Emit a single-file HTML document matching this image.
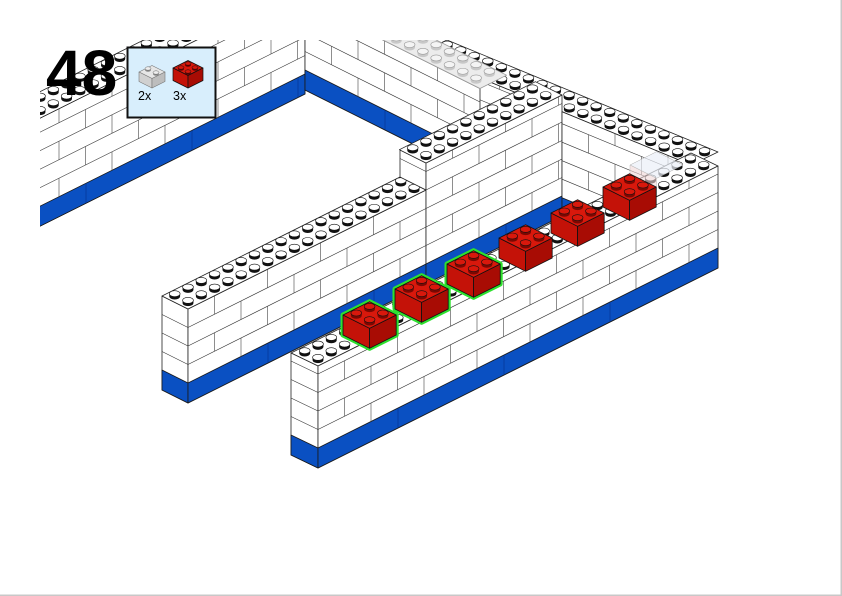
<!DOCTYPE html>
<html><head><meta charset="utf-8"><style>
html,body{margin:0;padding:0;background:#fff;width:842px;height:596px;overflow:hidden}
svg{display:block}
</style></head><body>
<svg id="s" width="842" height="596" viewBox="0 0 842 596" xmlns="http://www.w3.org/2000/svg">
<defs><clipPath id="c"><rect x="40" y="40" width="800" height="560"/></clipPath></defs>
<g id="g" clip-path="url(#c)"></g>
<g id="top"></g>
<rect x="840.5" y="0" width="1.5" height="596" fill="#c8c8c8"/>
<rect x="0" y="594.5" width="842" height="1.5" fill="#c8c8c8"/>
</svg>
<script>
const S='http://www.w3.org/2000/svg';
let G=document.getElementById('g');
function el(t,a,p){p=p||G;const e=document.createElementNS(S,t);for(const k in a)e.setAttribute(k,a[k]);p.appendChild(e);return e;}
function poly(pts,fill,stroke,sw){return el('polygon',{points:pts.map(p=>p[0].toFixed(1)+','+p[1].toFixed(1)).join(' '),fill:fill,stroke:stroke||'#222','stroke-width':sw||0.8,'stroke-linejoin':'round'});}
function line(x1,y1,x2,y2,c,w){el('line',{x1:x1,y1:y1,x2:x2,y2:y2,stroke:c||'#333','stroke-width':w||0.6});}
function face(xl,yl,xr,yr,h,bh){
  const m=(yr-yl)/(xr-xl);const Y=(x,o)=>yl+m*(x-xl)+o;
  poly([[xl,yl],[xr,yr],[xr,yr+h],[xl,yl+h]],'#fff');
  if(bh){poly([[xl,yl+h-bh],[xr,yr+h-bh],[xr,yr+h],[xl,yl+h]],'#0a50c2','#1a1a1a');
    for(let x=xl+80;x<xr-5;x+=106)line(x,Y(x,h-bh),x,Y(x,h),'#06308a',0.6);}
  const ch=18.5;let k=0;
  for(let ob=h-bh;ob>0.5;ob-=ch,k++){
    const ot=Math.max(0,ob-ch);
    if(ot>0.5)line(xl,Y(xl,ot),xr,Y(xr,ot));
    for(let x=xl+((k%2)?26.5:53);x<xr-3;x+=53)line(x,Y(x,ot),x,Y(x,ob),'#444',0.6);
  }
}
function stud(x,y,top,side,st){
  top=top||'#fff';side=side||'#111';st=st||'#111';
  el('ellipse',{cx:x,cy:y+2.8,rx:5.4,ry:3,fill:side});
  el('rect',{x:x-5.4,y:y,width:10.8,height:2.8,fill:side});
  el('ellipse',{cx:x,cy:y,rx:5.4,ry:3,fill:top,stroke:st,'stroke-width':0.6});
}
function studs(O,A,B,n,top,side,st,i0){
  i0=i0||0;
  for(let j=1;j>=0;j--)for(let i=i0;i<n;i++){
    stud(O[0]+(i+.5)*A[0]+(j+.5)*B[0],O[1]+(i+.5)*A[1]+(j+.5)*B[1]-2,top,side,st);
  }
}
const U=[13.3,-6.65],V=[13.3,6.65],mU=[-13.3,6.65],mV=[-13.3,-6.65];

face(420,53,562,111.7,170,0);
poly([[420,53],[447,40],[718,152],[691,165]],'#fff');
studs([447,40],[13.55,5.6],mU,20);
face(-100,188,305,-14,108,20);
poly([[-100,188],[305,-14],[278,-27],[-127,175]],'#fff');
studs([40-13.3*4,118+6.65*4],U,mV,26);
face(305,1,480,88.5,89,20);
poly([[383,40],[480,88.5],[506.6,75.2],[409.6,26.7]],'#ececec','#999');
studs([383,40],V,U,7,'#f4f4f4','#c8c8c8','#999');
face(162,296,188,309,94,20);
face(188,309,426,190,94,20);
poly([[162,296],[188,309],[426,190],[400,177]],'#fff');
studs([188,309],U,mV,18);
face(400,150,426,163,27,0);
face(426,163,562,95,121,20);
poly([[399.4,149.7],[426,163],[562,95],[535.4,81.7]],'#fff');
studs([426,163],U,mV,10);
face(562,111.7,691,165,106,20);
poly([[291,353],[318,366],[718,166],[691,153]],'#fff');
studs([318,366],U,mV,30);
face(291,353,318,366,102,20);
face(318,366,718,166,102,20);
function clear(x0,y0){
  poly([[x0,y0],[x0+26.6,y0-13.3],[x0+53,y0],[x0+26.6,y0+13.3]],'rgba(235,240,248,0.7)','#aaa',0.5);
  poly([[x0,y0],[x0+26.6,y0+13.3],[x0+26.6,y0+31],[x0,y0+18]],'rgba(240,215,215,0.6)','#bbb',0.5);
}
clear(630,165);
function red(x0,y0,green){
  const L=[x0,y0],T=[x0+26.6,y0-13.3],R=[x0+53.2,y0],B=[x0+26.6,y0+13.3],h=20;
  if(green)poly([L,T,R,[R[0],R[1]+h],[B[0],B[1]+h],[L[0],L[1]+h]],'none','#2ee02e',5);
  poly([L,B,[B[0],B[1]+h],[L[0],L[1]+h]],'#c41208','#111');
  poly([B,R,[R[0],R[1]+h],[B[0],B[1]+h]],'#a80c04','#111');
  poly([L,T,R,B],'#d8180c','#111');
  const cx=x0+26.6,cy=y0;
  [[cx,cy-6.65],[cx-13.3,cy],[cx+13.3,cy],[cx,cy+6.65]].forEach(p=>stud(p[0],p[1]-2,'#d8180c','#7a0802','#111'));
}
const pos=[[343,315],[395,289],[447,264],[499,238],[551,213],[603,187]];
for(let i=5;i>=0;i--)red(pos[i][0],pos[i][1],i<3);

G=document.getElementById('top');
el('text',{x:46,y:95,'font-family':'Liberation Sans, sans-serif','font-weight':'bold','font-size':64,fill:'#000'}).textContent='48';
el('rect',{x:127.5,y:47.5,width:88,height:70,fill:'#d8eefc',stroke:'#111','stroke-width':2});
poly([[139,72],[152,65.5],[165,72],[152,78.5]],'#e6e6e6','#777',0.6);
poly([[139,72],[152,78.5],[152,88],[139,81.5]],'#d0d0d0','#777',0.6);
poly([[152,78.5],[165,72],[165,81.5],[152,88]],'#bdbdbd','#777',0.6);
[[148,68.5],[156,72.5]].forEach(p=>{el('ellipse',{cx:p[0],cy:p[1]+1.5,rx:3,ry:1.7,fill:'#888'});el('ellipse',{cx:p[0],cy:p[1],rx:3,ry:1.7,fill:'#eee',stroke:'#666','stroke-width':0.5});});
poly([[173,68],[188,60.5],[203,68],[188,75.5]],'#d8180c','#111',0.7);
poly([[173,68],[188,75.5],[188,88],[173,80.5]],'#c41208','#111',0.7);
poly([[188,75.5],[203,68],[203,80.5],[188,88]],'#a80c04','#111',0.7);
[[188,63.5],[181,67.5],[195,67.5],[188,71.5]].forEach(p=>{el('ellipse',{cx:p[0],cy:p[1]+1.5,rx:3,ry:1.7,fill:'#600'});el('ellipse',{cx:p[0],cy:p[1],rx:3,ry:1.7,fill:'#d8180c',stroke:'#111','stroke-width':0.5});});
el('text',{x:138,y:100,'font-family':'Liberation Sans, sans-serif','font-size':12.5,fill:'#000'}).textContent='2x';
el('text',{x:173,y:100,'font-family':'Liberation Sans, sans-serif','font-size':12.5,fill:'#000'}).textContent='3x';
</script>
</body></html>
